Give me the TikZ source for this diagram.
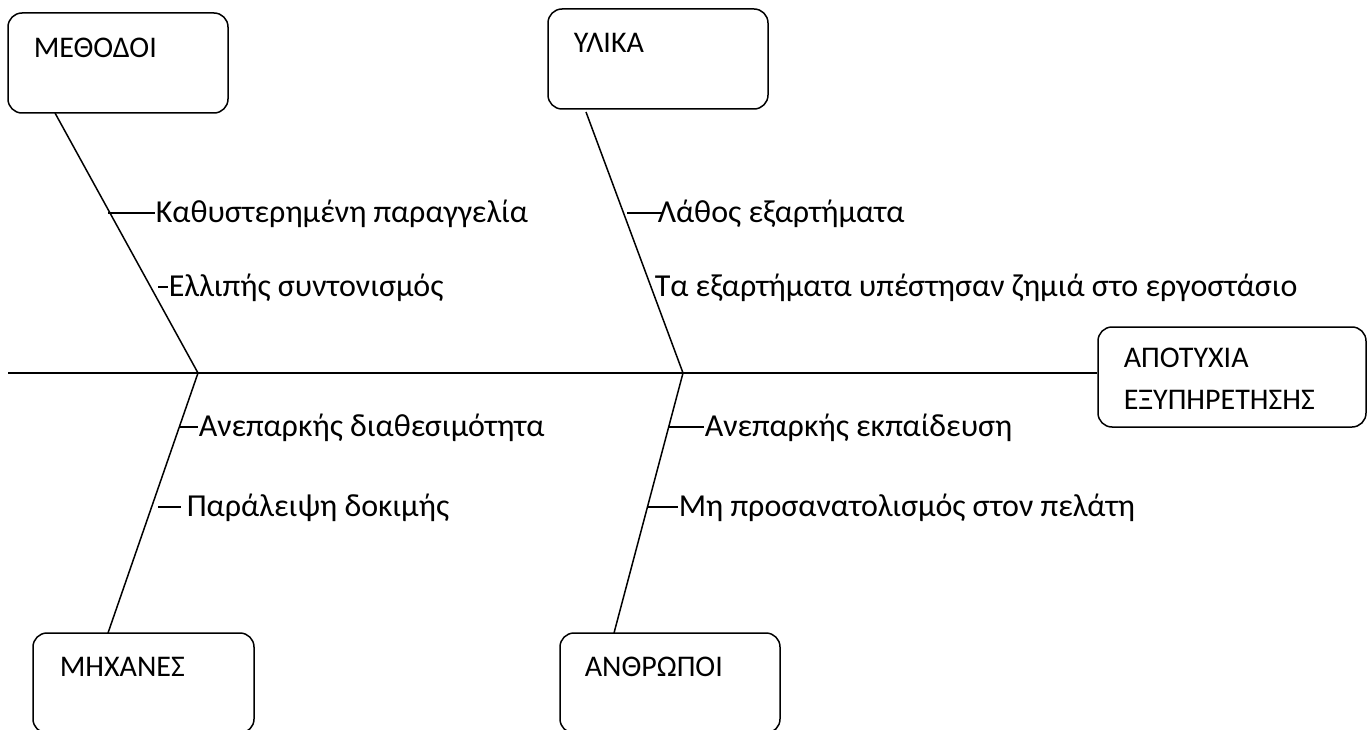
\documentclass[tikz,border=0pt]{standalone}
\usepackage{fontspec}
\setmainfont{Carlito}
\usetikzlibrary{calc}
\begin{document}
\begin{tikzpicture}[x=1pt,y=-1pt,line width=1.5pt,
  catbox/.style={draw,rounded corners=14pt,minimum width=#1,minimum height=100pt,inner sep=0pt},
  boxtext/.style={anchor=west,inner sep=0pt,font=\fontsize{30}{36}\selectfont},
  cause/.style={anchor=west,inner sep=0pt,font=\fontsize{32}{38}\selectfont}]
\useasboundingbox (0,0) rectangle (1367,730);
% category boxes
\node[catbox=220pt] (m) at (118,63) {};
\node[catbox=220pt] (y) at (658,59) {};
\node[catbox=221pt] (x) at (143.5,683) {};
\node[catbox=220pt] (a) at (670,683) {};
\node[catbox=268pt] (g) at (1232,377) {};
\node[boxtext] (mt) at (33,48) {ΜΕΘΟΔΟΙ};
\node[boxtext] (yt) at (573,43) {ΥΛΙΚΑ};
\node[boxtext] (xt) at (59,667) {ΜΗΧΑΝΕΣ};
\node[boxtext] (at) at (584,667) {ΑΝΘΡΩΠΟΙ};
\node[boxtext] (gt1) at (1123,358) {ΑΠΟΤΥΧΙΑ};
\node[boxtext] (gt2) at (1123,400) {ΕΞΥΠΗΡΕΤΗΣΗΣ};
% spine and bones
\coordinate (s0) at (8,373);
\coordinate (j1) at (198,373);
\coordinate (j2) at (683,373);
\coordinate (mb) at (55,113);
\coordinate (yb) at (586,112);
\coordinate (xb) at (108,633);
\coordinate (ab) at (614,633);
\draw (s0) -- (s0 -| g.west);
\draw (mb) -- (j1);
\draw (xb) -- (j1);
\draw (yb) -- (j2);
\draw (ab) -- (j2);
% causes
\node[cause] (c1) at (155,214) {Καθυστερημένη παραγγελία};
\node[cause] (c2) at (168,288) {Ελλιπής συντονισμός};
\node[cause] (c3) at (657,214) {Λάθος εξαρτήματα};
\node[cause] (c4) at (654,288) {Τα εξαρτήματα υπέστησαν ζημιά στο εργοστάσιο};
\node[cause] (c5) at (198,428) {Ανεπαρκής διαθεσιμότητα};
\node[cause] (c6) at (186,508) {Παράλειψη δοκιμής};
\node[cause] (c7) at (704,428) {Ανεπαρκής εκπαίδευση};
\node[cause] (c8) at (678,508) {Μη προσανατολισμός στον πελάτη};
\coordinate (k1) at (108,213);
\coordinate (k2) at (158,287);
\coordinate (k3) at (627,213);
\coordinate (k5) at (179,427);
\coordinate (k6) at (158,507);
\coordinate (k7) at (668,427);
\coordinate (k8) at (648,507);
\draw (k1) -- (k1 -| c1.west);
\draw (k2) -- (k2 -| c2.west);
\draw (k3) -- ($(k3 -| c3.west)+(5,0)$);
\draw (k5) -- (k5 -| c5.west);
\draw (k6) -- ($(k6 -| c6.west)+(-5,0)$);
\draw (k7) -- (k7 -| c7.west);
\draw (k8) -- (k8 -| c8.west);
\end{tikzpicture}
\end{document}
